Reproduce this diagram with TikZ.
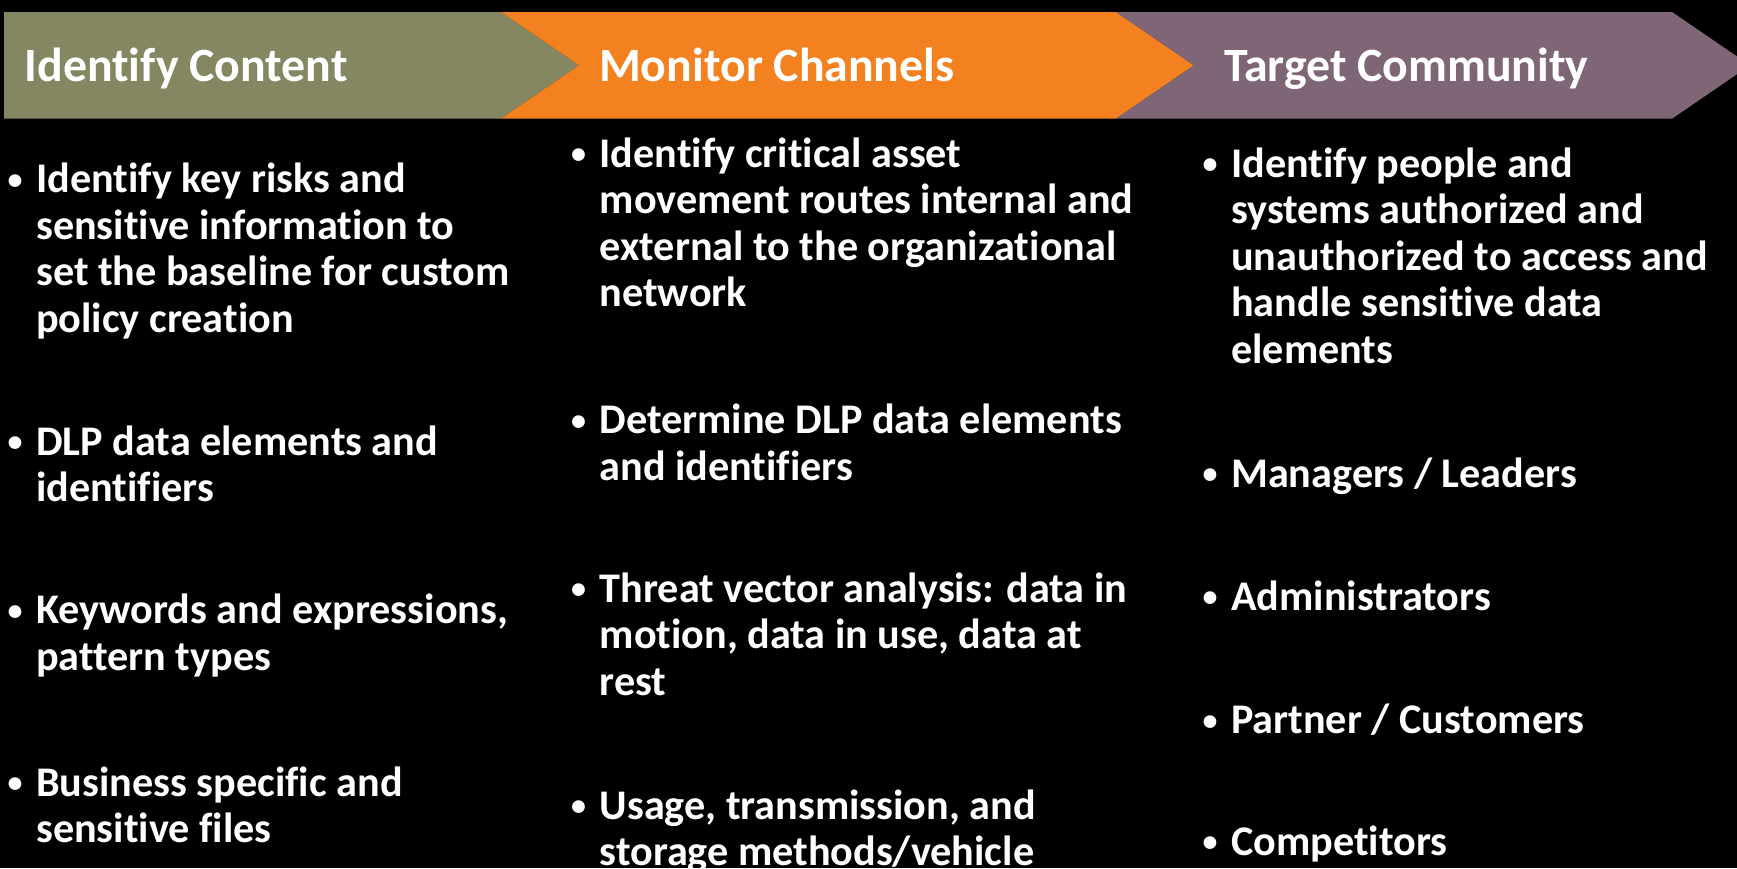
\documentclass[tikz,border=0pt]{standalone}
\usepackage{fontspec}
\setmainfont{Carlito}[Ligatures=CommonOff]
\definecolor{hgreen}{RGB}{132,135,98}
\definecolor{horange}{RGB}{243,129,31}
\definecolor{hpurple}{RGB}{127,102,119}
\newcommand{\bodyfont}{\fontsize{42.2pt}{46.5pt}\selectfont\bfseries}
\newcommand{\bl}{\llap{\makebox[42pt][c]{\fontsize{30pt}{30pt}\selectfont\raisebox{3.5pt}{\textbullet}}}}
\newcommand{\lines}[1]{\bl\begin{tabular}[t]{@{}l@{}}#1\end{tabular}}
\begin{document}
\begin{tikzpicture}[x=1pt,y=-1pt,
  head/.style={anchor=base west,inner sep=0pt,text=white,font=\fontsize{47.8pt}{52pt}\selectfont\bfseries},
  item/.style={anchor=base west,inner sep=0pt,text=white,font=\bodyfont}]
\fill[black] (0,0) rectangle (1737,868);
\useasboundingbox (0,0) rectangle (1737,868);
\clip (0,0) rectangle (1737,868);
% chevrons
\fill[hgreen] (4,12) -- (501,12) -- (579,65.3) -- (501,118.7) -- (4,118.7) -- cycle;
\fill[horange] (501,12) -- (1116,12) -- (1194,65.3) -- (1116,118.7) -- (501,118.7) -- (579,65.3) -- cycle;
\fill[hpurple] (1116,12) -- (1672,12) -- (1750,65.3) -- (1672,118.7) -- (1116,118.7) -- (1194,65.3) -- cycle;
% headers
\node[head] (h1) at (24.5,81.7) {Identify Content};
\node[head] (h2) at (599,81.7) {Monitor Channels};
\node[head] (h3) at (1224,81.7) {Target Community};
% left column
\node[item] (l1) at (36,192.5) {\lines{Identify key risks and\\sensitive information to\\set the baseline for custom\\policy creation}};
\node[item] (l2) at (36,455) {\lines{DLP data elements and\\identifiers}};
\node[item] (l3) at (36,623.5) {\lines{Keywords and expressions,\\pattern types}};
\node[item] (l4) at (36,796) {\lines{Business specific and\\sensitive files}};
% middle column
\node[item] (m1) at (599.5,167) {\lines{Identify critical asset\\movement routes internal and\\external to the organizational\\network}};
\node[item] (m2) at (599.5,433.5) {\lines{Determine DLP data elements\\and identifiers}};
\node[item] (m3) at (599.5,602) {\lines{Threat vector analysis: data in\\motion, data in use, data at\\rest}};
\node[item] (m4) at (599.5,819) {\lines{Usage, transmission, and\\storage methods/vehicle}};
% right column
\node[item] (r1) at (1231,177) {\lines{Identify people and\\systems authorized and\\unauthorized to access and\\handle sensitive data\\elements}};
\node[item] (r2) at (1231,487) {\lines{Managers / Leaders}};
\node[item] (r3) at (1231,610) {\lines{Administrators}};
\node[item] (r4) at (1231,733.5) {\lines{Partner / Customers}};
\node[item] (r5) at (1231,855) {\lines{Competitors}};
\end{tikzpicture}
\end{document}
